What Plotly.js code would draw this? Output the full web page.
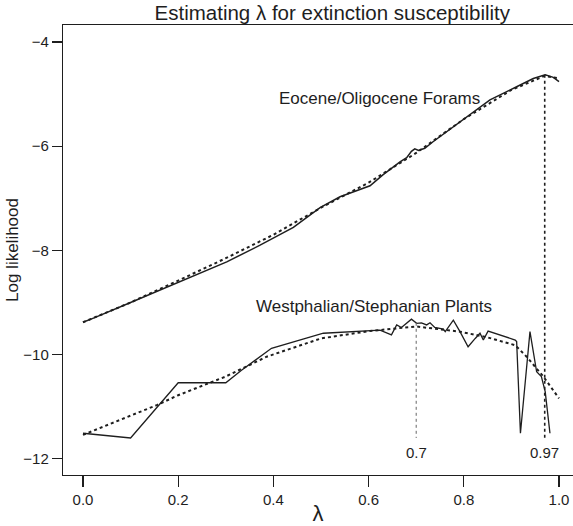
<!DOCTYPE html>
<html>
<head>
<meta charset="utf-8">
<script src="https://cdn.plot.ly/plotly-3.0.1.min.js"></script>
<style>html,body{margin:0;padding:0;background:#fff;}#chart{width:573px;height:526px;}</style>
</head>
<body>
<div id="chart"></div>
<script>
// Eocene/Oligocene Forams: observed log likelihood
const eoceneLambda = [0, 0.022, 0.1, 0.162, 0.2, 0.25, 0.302, 0.372, 0.442, 0.498, 0.54, 0.603, 0.63, 0.666, 0.68, 0.69, 0.697, 0.705, 0.718, 0.736, 0.77, 0.806, 0.855, 0.911, 0.946, 0.971, 0.988, 1.0];
const eoceneLL     = [-9.38, -9.30, -9.0, -8.76, -8.62, -8.43, -8.22, -7.90, -7.56, -7.18, -6.97, -6.76, -6.55, -6.30, -6.22, -6.10, -6.05, -6.08, -6.04, -5.91, -5.68, -5.43, -5.11, -4.86, -4.70, -4.63, -4.68, -4.76];
// Eocene/Oligocene Forams: smoothed fit
const eoceneFitLambda = [0, 0.1, 0.2, 0.3, 0.4, 0.5, 0.6, 0.7, 0.8, 0.9, 0.97, 1.0];
const eoceneFitLL     = [-9.38, -9.0, -8.58, -8.15, -7.70, -7.18, -6.70, -6.13, -5.48, -4.92, -4.65, -4.70];

// Westphalian/Stephanian Plants: observed log likelihood
const westLambda = [0, 0.1, 0.2, 0.3, 0.333, 0.396, 0.505, 0.596, 0.624, 0.648, 0.659, 0.669, 0.680, 0.690, 0.701, 0.711, 0.722, 0.729, 0.739, 0.757, 0.761, 0.778, 0.792, 0.809, 0.824, 0.834, 0.841, 0.851, 0.908, 0.911, 0.919, 0.939, 0.953, 0.963, 0.971, 0.981];
const westLL     = [-11.51, -11.60, -10.54, -10.54, -10.30, -9.88, -9.59, -9.54, -9.53, -9.62, -9.43, -9.48, -9.39, -9.32, -9.40, -9.39, -9.43, -9.39, -9.48, -9.51, -9.56, -9.34, -9.56, -9.85, -9.69, -9.59, -9.72, -9.55, -9.72, -9.75, -11.51, -9.56, -10.33, -10.42, -10.71, -11.51];
// Westphalian/Stephanian Plants: smoothed fit
const westFitLambda = [0, 0.1, 0.155, 0.2, 0.3, 0.386, 0.5, 0.6, 0.648, 0.7, 0.792, 0.85, 0.908, 0.932, 0.967, 1.0];
const westFitLL     = [-11.54, -11.17, -10.97, -10.78, -10.42, -10.04, -9.69, -9.55, -9.51, -9.46, -9.56, -9.67, -9.82, -10.04, -10.42, -10.84];

// Maximum-likelihood lambda markers
const mlLambda = [0.7, 0.97];
const mlTop    = [-9.39, -4.63];
const mlBottom = -11.60;
const mlLabels = ["0.7", "0.97"];
const mlLabelY = -11.87;

// Series labels
const seriesLabels = ["Eocene/Oligocene Forams", "Westphalian/Stephanian Plants"];
const seriesLabelX = [0.622, 0.611];
const seriesLabelY = [-5.09, -9.07];

const xTicks = [0, 0.2, 0.4, 0.6, 0.8, 1.0];
const xTickText = ["0.0", "0.2", "0.4", "0.6", "0.8", "1.0"];
const yTicks = [-12, -10, -8, -6, -4];

const ink = "#1e1e1e";
const font = "Liberation Sans, Arial, sans-serif";

const traces = [
  {x: eoceneFitLambda, y: eoceneFitLL, mode: "lines", line: {color: ink, width: 2, dash: "dot"}, hoverinfo: "skip"},
  {x: eoceneLambda, y: eoceneLL, mode: "lines", line: {color: ink, width: 1.5}, hoverinfo: "skip"},
  {x: westFitLambda, y: westFitLL, mode: "lines", line: {color: ink, width: 2, dash: "dot"}, hoverinfo: "skip"},
  {x: westLambda, y: westLL, mode: "lines", line: {color: ink, width: 1.3}, hoverinfo: "skip"},
  {x: [mlLambda[0], mlLambda[0]], y: [mlTop[0], mlBottom], mode: "lines", line: {color: "#666", width: 1, dash: "dot"}, hoverinfo: "skip"},
  {x: [mlLambda[1], mlLambda[1]], y: [mlTop[1], mlBottom], mode: "lines", line: {color: ink, width: 1.6, dash: "dot"}, hoverinfo: "skip"}
];

const annotations = [];
for (let i = 0; i < seriesLabels.length; i++) {
  annotations.push({x: seriesLabelX[i], y: seriesLabelY[i], xref: "x", yref: "y", text: seriesLabels[i],
    showarrow: false, xanchor: "center", yanchor: "middle", font: {family: font, size: 17, color: ink}});
}
for (let i = 0; i < mlLambda.length; i++) {
  annotations.push({x: mlLambda[i], y: mlLabelY, xref: "x", yref: "y", text: mlLabels[i],
    showarrow: false, xanchor: "center", yanchor: "middle", font: {family: font, size: 15, color: ink}});
}

const layout = {
  width: 573, height: 526,
  margin: {l: 63, r: 0, t: 25, b: 51, pad: 0},
  paper_bgcolor: "#fff", plot_bgcolor: "#fff",
  showlegend: false,
  font: {family: font, color: ink},
  title: {text: "Estimating λ for extinction susceptibility", font: {family: font, size: 20.5, color: ink},
    x: 0.528, xref: "paper", xanchor: "center", y: 0.975, yref: "container", yanchor: "middle"},
  xaxis: {
    range: [-0.042, 1.0294], tickvals: xTicks, ticktext: xTickText,
    showgrid: false, zeroline: false, showline: true, mirror: true, linecolor: ink, linewidth: 1.2,
    ticks: "outside", ticklen: 11, tickwidth: 1.2, tickcolor: ink,
    tickfont: {family: font, size: 15, color: ink},
    title: {text: "λ", font: {family: font, size: 22, color: ink}, standoff: 0}
  },
  yaxis: {
    range: [-12.311, -3.674], tickvals: yTicks,
    showgrid: false, zeroline: false, showline: true, mirror: false, linecolor: ink, linewidth: 1.2,
    ticks: "outside", ticklen: 10, tickwidth: 1.2, tickcolor: ink,
    tickfont: {family: font, size: 15, color: ink},
    title: {text: "Log likelihood", font: {family: font, size: 17, color: ink}, standoff: 0}
  },
  annotations: annotations
};

Plotly.newPlot("chart", traces, layout, {staticPlot: true, displayModeBar: false});
</script>
</body>
</html>
